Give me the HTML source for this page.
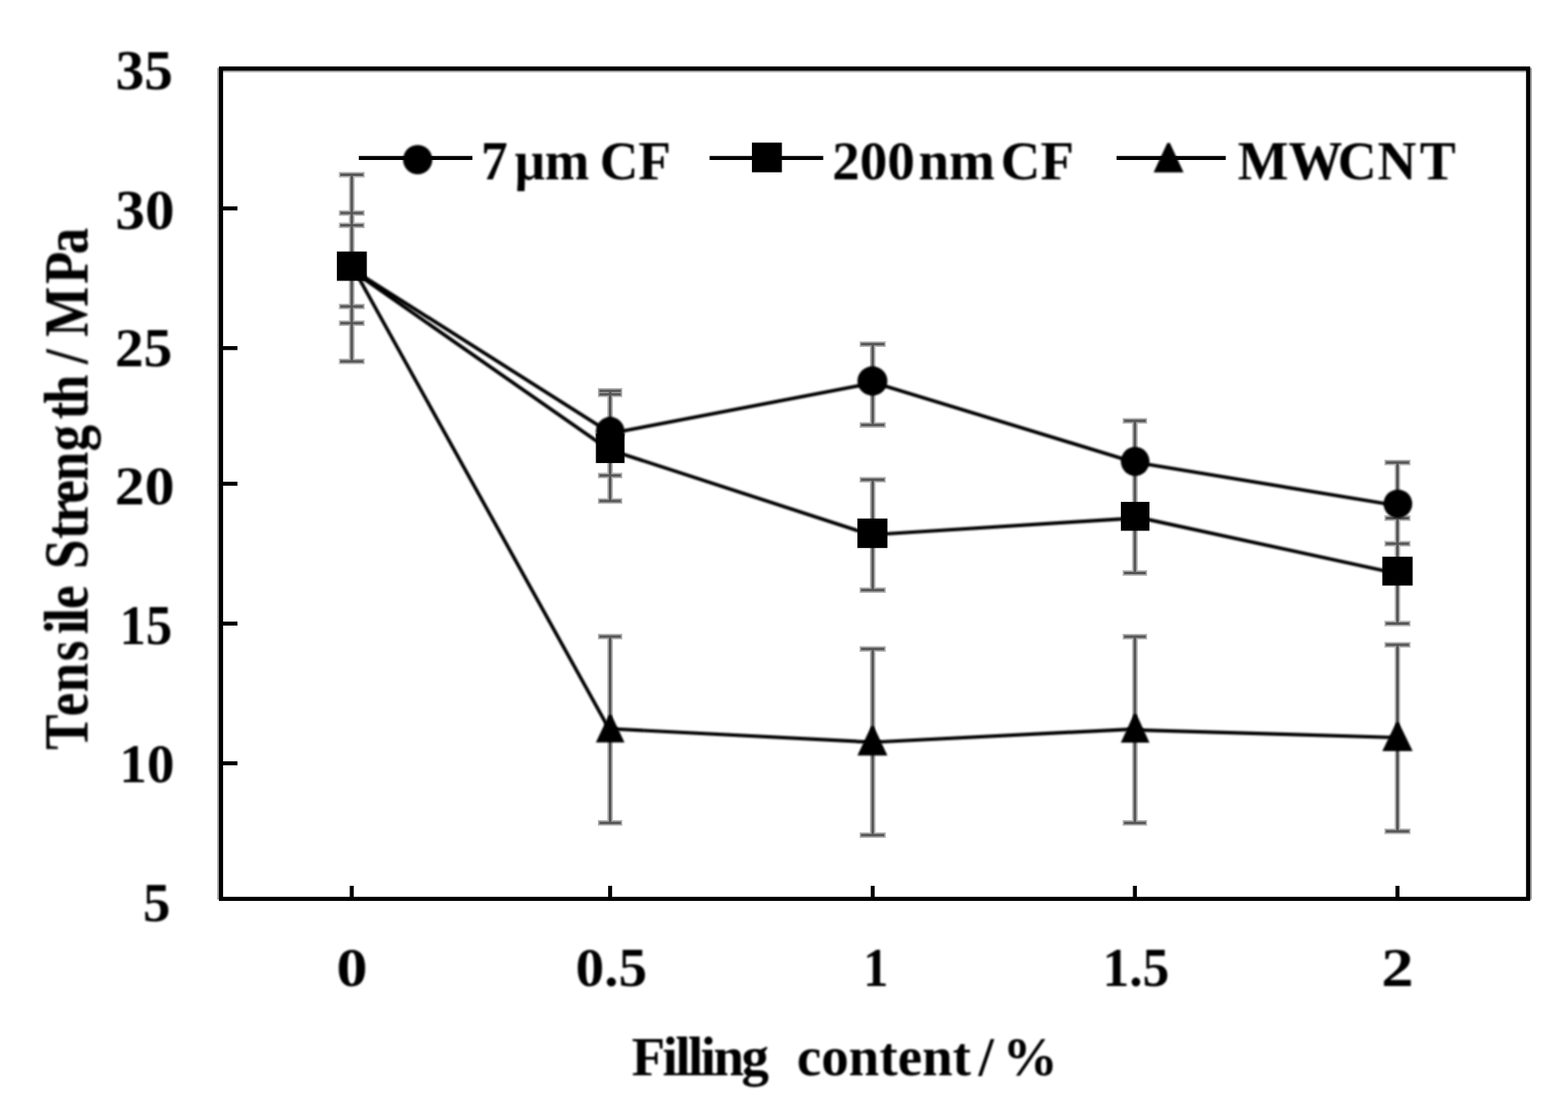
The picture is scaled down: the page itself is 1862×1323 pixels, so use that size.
<!DOCTYPE html>
<html lang="en"><head><meta charset="utf-8"><title>Tensile Strength vs Filling content</title>
<style>html,body{margin:0;padding:0;background:#fff;overflow:hidden}svg{display:block}</style></head><body>
<svg width="1862" height="1323" viewBox="0 0 1862 1323" font-family="'Liberation Serif', 'DejaVu Serif', serif" font-weight="bold" font-size="64" fill="#000">
<rect width="1862" height="1323" fill="#fff"/>
<defs>
<filter id="soft" x="-5%" y="-5%" width="110%" height="110%" color-interpolation-filters="sRGB"><feGaussianBlur stdDeviation="0.8"/></filter>
<filter id="softText" x="-5%" y="-5%" width="110%" height="110%" color-interpolation-filters="sRGB"><feGaussianBlur stdDeviation="0.8"/></filter>
</defs>
<g>
<g stroke="#a0a0a0" stroke-width="4.9" fill="none">
<line x1="260.45" y1="80.39999999999999" x2="260.45" y2="1068.45"/>
<line x1="1816.65" y1="80.39999999999999" x2="1816.65" y2="1068.45"/>
<line x1="264.9" y1="83.35" x2="1812.2" y2="83.35"/>
</g>
<g stroke="#b0b0b0" stroke-width="6.6" fill="none">
<line x1="417.7" y1="207.5" x2="417.7" y2="429.2"/>
<line x1="402.45" y1="207.5" x2="432.95" y2="207.5"/>
<line x1="402.45" y1="253" x2="432.95" y2="253"/>
<line x1="402.45" y1="267.6" x2="432.95" y2="267.6"/>
<line x1="402.45" y1="364" x2="432.95" y2="364"/>
<line x1="402.45" y1="383.8" x2="432.95" y2="383.8"/>
<line x1="402.45" y1="429.2" x2="432.95" y2="429.2"/>
<line x1="724.5" y1="464.2" x2="724.5" y2="595"/>
<line x1="710.05" y1="464.2" x2="738.95" y2="464.2"/>
<line x1="710.05" y1="468.3" x2="738.95" y2="468.3"/>
<line x1="710.05" y1="564.7" x2="738.95" y2="564.7"/>
<line x1="710.05" y1="595" x2="738.95" y2="595"/>
<line x1="724.5" y1="756" x2="724.5" y2="977.3"/>
<line x1="710.05" y1="756" x2="738.95" y2="756"/>
<line x1="710.05" y1="977.3" x2="738.95" y2="977.3"/>
<line x1="1036.3" y1="408.7" x2="1036.3" y2="504.7"/>
<line x1="1020.80" y1="408.7" x2="1051.80" y2="408.7"/>
<line x1="1020.80" y1="504.7" x2="1051.80" y2="504.7"/>
<line x1="1036.3" y1="569.7" x2="1036.3" y2="700.8"/>
<line x1="1020.80" y1="569.7" x2="1051.80" y2="569.7"/>
<line x1="1020.80" y1="700.8" x2="1051.80" y2="700.8"/>
<line x1="1036.3" y1="770.7" x2="1036.3" y2="991.8"/>
<line x1="1020.80" y1="770.7" x2="1051.80" y2="770.7"/>
<line x1="1020.80" y1="991.8" x2="1051.80" y2="991.8"/>
<line x1="1347.7" y1="499.8" x2="1347.7" y2="680.5"/>
<line x1="1333.20" y1="499.8" x2="1362.20" y2="499.8"/>
<line x1="1333.20" y1="600.0" x2="1362.20" y2="600.0"/>
<line x1="1333.20" y1="549.5" x2="1362.20" y2="549.5"/>
<line x1="1333.20" y1="680.5" x2="1362.20" y2="680.5"/>
<line x1="1347.7" y1="756.1" x2="1347.7" y2="977.3"/>
<line x1="1333.20" y1="756.1" x2="1362.20" y2="756.1"/>
<line x1="1333.20" y1="977.3" x2="1362.20" y2="977.3"/>
<line x1="1659.5" y1="549.3" x2="1659.5" y2="740.5"/>
<line x1="1644.10" y1="549.3" x2="1674.90" y2="549.3"/>
<line x1="1644.10" y1="645.7" x2="1674.90" y2="645.7"/>
<line x1="1644.10" y1="615.4" x2="1674.90" y2="615.4"/>
<line x1="1644.10" y1="740.5" x2="1674.90" y2="740.5"/>
<line x1="1659.5" y1="765.8" x2="1659.5" y2="987.3"/>
<line x1="1644.10" y1="765.8" x2="1674.90" y2="765.8"/>
<line x1="1644.10" y1="987.3" x2="1674.90" y2="987.3"/>
</g>
<g stroke="#575757" stroke-width="3.0" fill="none">
<line x1="417.7" y1="207.5" x2="417.7" y2="429.2"/>
<line x1="404.05" y1="207.5" x2="431.35" y2="207.5"/>
<line x1="404.05" y1="253" x2="431.35" y2="253"/>
<line x1="404.05" y1="267.6" x2="431.35" y2="267.6"/>
<line x1="404.05" y1="364" x2="431.35" y2="364"/>
<line x1="404.05" y1="383.8" x2="431.35" y2="383.8"/>
<line x1="404.05" y1="429.2" x2="431.35" y2="429.2"/>
<line x1="724.5" y1="464.2" x2="724.5" y2="595"/>
<line x1="711.65" y1="464.2" x2="737.35" y2="464.2"/>
<line x1="711.65" y1="468.3" x2="737.35" y2="468.3"/>
<line x1="711.65" y1="564.7" x2="737.35" y2="564.7"/>
<line x1="711.65" y1="595" x2="737.35" y2="595"/>
<line x1="724.5" y1="756" x2="724.5" y2="977.3"/>
<line x1="711.65" y1="756" x2="737.35" y2="756"/>
<line x1="711.65" y1="977.3" x2="737.35" y2="977.3"/>
<line x1="1036.3" y1="408.7" x2="1036.3" y2="504.7"/>
<line x1="1022.40" y1="408.7" x2="1050.20" y2="408.7"/>
<line x1="1022.40" y1="504.7" x2="1050.20" y2="504.7"/>
<line x1="1036.3" y1="569.7" x2="1036.3" y2="700.8"/>
<line x1="1022.40" y1="569.7" x2="1050.20" y2="569.7"/>
<line x1="1022.40" y1="700.8" x2="1050.20" y2="700.8"/>
<line x1="1036.3" y1="770.7" x2="1036.3" y2="991.8"/>
<line x1="1022.40" y1="770.7" x2="1050.20" y2="770.7"/>
<line x1="1022.40" y1="991.8" x2="1050.20" y2="991.8"/>
<line x1="1347.7" y1="499.8" x2="1347.7" y2="680.5"/>
<line x1="1334.80" y1="499.8" x2="1360.60" y2="499.8"/>
<line x1="1334.80" y1="600.0" x2="1360.60" y2="600.0"/>
<line x1="1334.80" y1="549.5" x2="1360.60" y2="549.5"/>
<line x1="1334.80" y1="680.5" x2="1360.60" y2="680.5"/>
<line x1="1347.7" y1="756.1" x2="1347.7" y2="977.3"/>
<line x1="1334.80" y1="756.1" x2="1360.60" y2="756.1"/>
<line x1="1334.80" y1="977.3" x2="1360.60" y2="977.3"/>
<line x1="1659.5" y1="549.3" x2="1659.5" y2="740.5"/>
<line x1="1645.70" y1="549.3" x2="1673.30" y2="549.3"/>
<line x1="1645.70" y1="645.7" x2="1673.30" y2="645.7"/>
<line x1="1645.70" y1="615.4" x2="1673.30" y2="615.4"/>
<line x1="1645.70" y1="740.5" x2="1673.30" y2="740.5"/>
<line x1="1659.5" y1="765.8" x2="1659.5" y2="987.3"/>
<line x1="1645.70" y1="765.8" x2="1673.30" y2="765.8"/>
<line x1="1645.70" y1="987.3" x2="1673.30" y2="987.3"/>
</g>
<g stroke="#000" stroke-width="4.2" fill="none" filter="url(#soft)">
<line x1="417.7" y1="319.5" x2="724.5" y2="514.0"/>
<line x1="724.5" y1="514.7" x2="1036.3" y2="455.0"/>
<line x1="1036.3" y1="454.0" x2="1347.7" y2="549.2"/>
<line x1="1347.7" y1="549.0" x2="1659.5" y2="600.5"/>
<line x1="417.7" y1="321.0" x2="724.5" y2="535.0"/>
<line x1="724.5" y1="534.4" x2="1036.3" y2="636.0"/>
<line x1="1036.3" y1="635.0" x2="1347.7" y2="615.3"/>
<line x1="1347.7" y1="613.6" x2="1659.5" y2="681.2"/>
<line x1="417.7" y1="315.0" x2="724.5" y2="868.0"/>
<line x1="724.5" y1="865.5" x2="1036.3" y2="881.5"/>
<line x1="1036.3" y1="881.5" x2="1347.7" y2="865.8"/>
<line x1="1347.7" y1="866.9" x2="1659.5" y2="876.0"/>
</g>
<g fill="#000" filter="url(#soft)">
<ellipse cx="724.6" cy="512.5" rx="17.0" ry="17.4"/>
<ellipse cx="1036.0" cy="452.5" rx="17.8" ry="17.4"/>
<ellipse cx="1348.0" cy="548.0" rx="17.0" ry="17.2"/>
<ellipse cx="1660.0" cy="598.3" rx="17.0" ry="16.9"/>
<polygon points="723.1,848.9 726.1,848.9 741.6,881.8 707.6,881.8"/>
<polygon points="1034.5,862.5 1037.5,862.5 1053.8,897.3 1018.2,897.3"/>
<polygon points="1346.5,847.9 1349.5,847.9 1365.0,882.1 1331.0,882.1"/>
<polygon points="1658.0,857.9 1661.0,857.9 1677.5,892.1 1641.5,892.1"/>
</g>
<g fill="#000">
<rect x="400.00" y="298.70" width="35.6" height="34.8"/>
<rect x="707.60" y="515.10" width="34.0" height="34.8"/>
<rect x="1018.20" y="615.80" width="35.6" height="35.0"/>
<rect x="1331.00" y="596.05" width="34.0" height="34.3"/>
<rect x="1641.50" y="661.15" width="36.0" height="34.3"/>
</g>
<g stroke="#000" stroke-width="4.9" fill="none">
<rect x="262.45" y="81.35" width="1552.20" height="986.15"/>
</g>
<g stroke="#000" stroke-width="4.7" fill="none">
<line x1="262.45" y1="247.5" x2="282.0" y2="247.5"/>
<line x1="262.45" y1="413.4" x2="282.0" y2="413.4"/>
<line x1="262.45" y1="574.5" x2="282.0" y2="574.5"/>
<line x1="262.45" y1="740.6" x2="282.0" y2="740.6"/>
<line x1="262.45" y1="906.5" x2="282.0" y2="906.5"/>
<line x1="417.7" y1="1067.5" x2="417.7" y2="1052.0"/>
<line x1="724.5" y1="1067.5" x2="724.5" y2="1052.0"/>
<line x1="1036.3" y1="1067.5" x2="1036.3" y2="1052.0"/>
<line x1="1347.7" y1="1067.5" x2="1347.7" y2="1052.0"/>
<line x1="1659.5" y1="1067.5" x2="1659.5" y2="1052.0"/>
</g>
<g stroke="#000" stroke-width="4.7" fill="none">
<line x1="426.1" y1="187.7" x2="561" y2="187.7"/>
<line x1="842.6" y1="187.6" x2="977.6" y2="187.6"/>
<line x1="1325.9" y1="187.6" x2="1455.6" y2="187.6"/>
</g>
<g fill="#000" filter="url(#soft)">
<ellipse cx="496" cy="189.6" rx="17.4" ry="17.4"/>
<polygon points="1386.2,169.8 1389.2,169.8 1405.5,204.7 1369.9,204.7"/>
</g>
<g fill="#000">
<rect x="892.90" y="169.40" width="35.6" height="35.2"/>
</g>
<g fill="#000" filter="url(#softText)">
<text transform="translate(0,105.70) scale(1.0633,1.0429)" xml:space="preserve"><tspan x="129.00">35</tspan></text>
<text transform="translate(0,271.50) scale(1.0950,1.0429)" xml:space="preserve"><tspan x="125.21">30</tspan></text>
<text transform="translate(0,435.00) scale(1.0661,1.0405)" xml:space="preserve"><tspan x="127.94">25</tspan></text>
<text transform="translate(0,598.80) scale(1.1102,1.0405)" xml:space="preserve"><tspan x="122.75">20</tspan></text>
<text transform="translate(0,764.80) scale(0.9754,1.0452)" xml:space="preserve"><tspan x="145.60">15</tspan></text>
<text transform="translate(0,928.50) scale(1.0211,1.0333)" xml:space="preserve"><tspan x="138.87">10</tspan></text>
<text transform="translate(0,1094.10) scale(1.0185,1.0286)" xml:space="preserve"><tspan x="166.66">5</tspan></text>
<text transform="translate(0,1171.10) scale(1.1536,1.0286)" xml:space="preserve"><tspan x="346.31">0</tspan></text>
<text transform="translate(0,1171.10) scale(1.0605,1.0286)" xml:space="preserve"><tspan x="644.57">0.5</tspan></text>
<text transform="translate(0,1171.10) scale(0.9375,1.0286)" xml:space="preserve"><tspan x="1093.24">1</tspan></text>
<text transform="translate(0,1171.10) scale(0.9932,1.0333)" xml:space="preserve"><tspan x="1318.16">1.5</tspan></text>
<text transform="translate(0,1170.90) scale(1.2000,1.0286)" xml:space="preserve"><tspan x="1366.83">2</tspan></text>
<text transform="translate(0,213.20) scale(0.9906,1.0214)" xml:space="preserve"><tspan x="576.74">7</tspan><tspan x="616.99">μm </tspan><tspan x="718.97">CF</tspan></text>
<text transform="translate(0,213.20) scale(1.0207,1.0214)" xml:space="preserve"><tspan x="968.29">200</tspan><tspan x="1068.63">nm </tspan><tspan x="1164.14">CF</tspan></text>
<text transform="translate(0,213.20) scale(0.9996,1.0214)" xml:space="preserve"><tspan x="1470.30">MW</tspan><tspan x="1589.25">C</tspan><tspan x="1636.37">N</tspan><tspan x="1686.79">T</tspan></text>
<text transform="translate(0,1277.00) scale(1.0210,1.0386)" xml:space="preserve"><tspan x="734.55" style="letter-spacing:-3.0px">Filling  </tspan><tspan x="926.70">content </tspan><tspan x="1138.00">/ </tspan><tspan x="1166.36">%</tspan></text>
<text transform="translate(103.70,0) rotate(-90) scale(0.9850,1.1432)" xml:space="preserve"><tspan x="-904.15">T</tspan><tspan x="-863.83">e</tspan><tspan x="-834.69">n</tspan><tspan x="-797.13">s</tspan><tspan x="-764.65">i</tspan><tspan x="-750.85">l</tspan><tspan x="-734.18">e </tspan><tspan x="-686.05">S</tspan><tspan x="-649.73">t</tspan><tspan x="-630.83">r</tspan><tspan x="-607.08">e</tspan><tspan x="-580.27">n</tspan><tspan x="-544.13">g</tspan><tspan x="-505.57">t</tspan><tspan x="-487.38">h </tspan><tspan x="-438.88">/ </tspan><tspan x="-406.08">M</tspan><tspan x="-342.42">P</tspan><tspan x="-306.57">a</tspan></text>
</g>
</g>
</svg></body></html>
